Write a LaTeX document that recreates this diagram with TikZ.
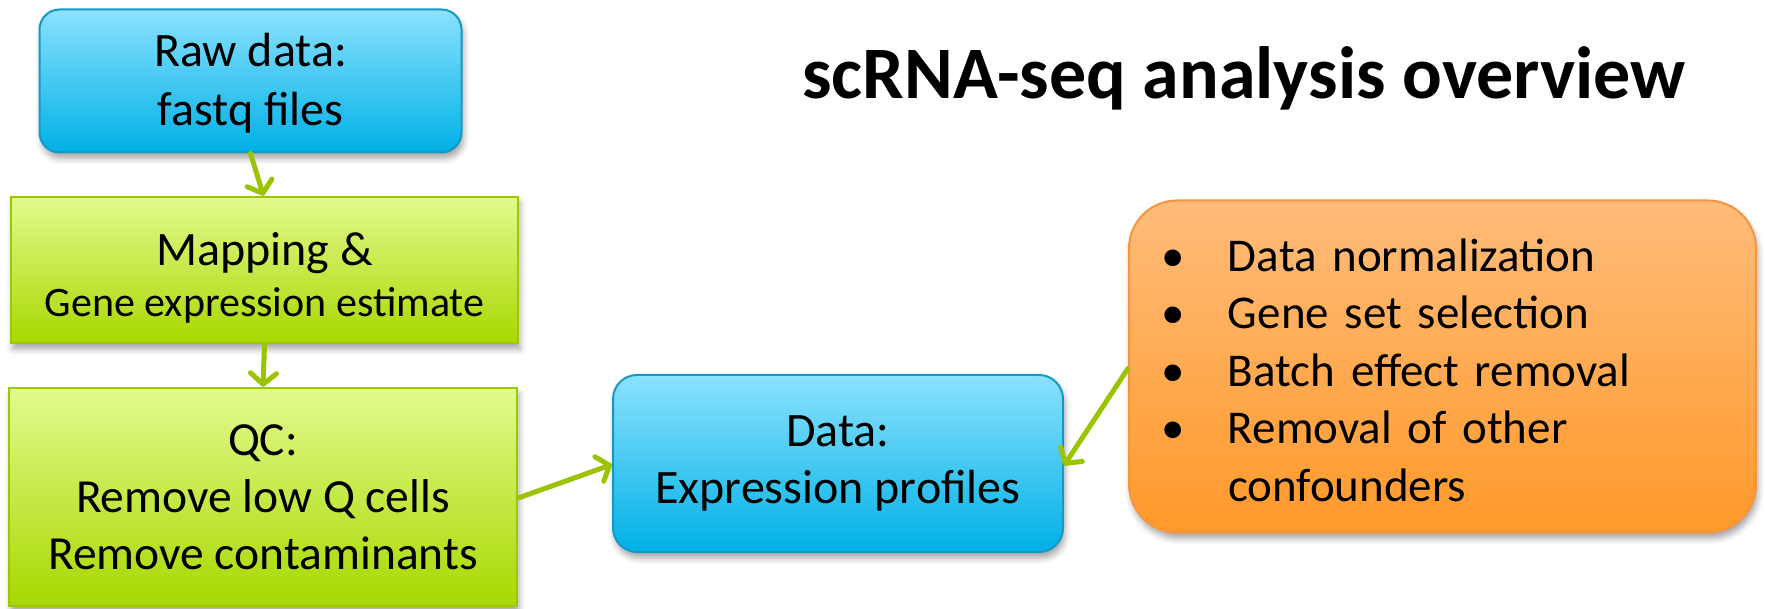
\documentclass[tikz,border=0pt]{standalone}
\usepackage{fontspec}
\setmainfont{Carlito}
\usetikzlibrary{arrows.meta,shadows.blur}

\definecolor{bluetop}{HTML}{8BE2FE}
\definecolor{bluebot}{HTML}{00B0E6}
\definecolor{blueline}{HTML}{1598C6}
\definecolor{greentop}{HTML}{E2FA8E}
\definecolor{greenbot}{HTML}{A8D800}
\definecolor{greenline}{HTML}{9CC800}
\definecolor{orangetop}{HTML}{FFBC7A}
\definecolor{orangebot}{HTML}{FF992A}
\definecolor{orangeline}{HTML}{F79440}
\definecolor{arrowgreen}{HTML}{9AC300}

\tikzset{
  soft/.style={blur shadow={shadow xshift=2pt, shadow yshift=-6pt,
      shadow blur radius=6pt, shadow opacity=35}},
  bluebox/.style={draw=blueline, line width=2pt, top color=bluetop,
      bottom color=bluebot, soft, align=center, inner sep=0pt},
  greenbox/.style={draw=greenline, line width=2.5pt, top color=greentop,
      bottom color=greenbot, soft, align=center, inner sep=0pt},
  orangebox/.style={draw=orangeline, line width=2pt, top color=orangetop,
      bottom color=orangebot, soft, rounded corners=48pt},
  flow/.style={draw=arrowgreen, line width=5pt, line cap=round,
      -{Straight Barb[length=11pt,width=26pt,round]}},
}
\newcommand{\bul}{\makebox[60pt][l]{\hspace{-7pt}•}}

\begin{document}
\begin{tikzpicture}[x=1pt, y=-1pt]
  \useasboundingbox (0,0) rectangle (1765,609);

  % title
  \node[font=\fontsize{74}{88}\selectfont\bfseries, anchor=base, inner sep=0pt]
    (title) at (1244,99) {scRNA-seq analysis overview};

  % processing steps on the left
  \node[bluebox, rounded corners=20pt, minimum width=422pt, minimum height=143pt,
        font=\fontsize{48}{59}\selectfont]
    (raw) at (250.5,81) {\rule{0pt}{38pt}Raw data:\\fastq files};

  \node[greenbox, minimum width=507pt, minimum height=146pt,
        font=\fontsize{42}{51}\selectfont]
    (map) at (264.5,270)
    {\rule{0pt}{48pt}{\fontsize{48}{51}\selectfont Mapping \&}\\
     Gene expression estimate};

  \node[greenbox, minimum width=508pt, minimum height=218pt,
        font=\fontsize{47.5}{57}\selectfont]
    (qc) at (263,497) {QC:\\Remove low Q cells\\Remove contaminants};

  % resulting data
  \node[bluebox, rounded corners=24pt, minimum width=450pt, minimum height=177pt,
        font=\fontsize{48}{57}\selectfont]
    (data) at (838,463.5) {Data:\\Expression profiles};

  % downstream processing
  \node[orangebox, minimum width=627pt, minimum height=332pt,
        text width=549pt, inner xsep=39pt, inner ysep=0pt, align=left,
        font=\fontsize{47}{57.5}\selectfont]
    (post) at (1442.5,366.5)
    {\rule{0pt}{40pt}\bul Data normalization\\
     \bul Gene set selection\\
     \bul Batch effect removal\\
     \bul Removal of other\\
     \hspace*{60pt}confounders};

  % connectors
  \draw[flow] (raw.south) -- ([xshift=-1pt]map.north);
  \draw[flow] (map.south) -- (qc.north);
  \draw[flow] ([yshift=-1pt]qc.east) -- ([yshift=-1pt]data.west);
  \draw[flow] ([yshift=-2pt]post.west) -- ([yshift=-2pt]data.east);
\end{tikzpicture}
\end{document}
